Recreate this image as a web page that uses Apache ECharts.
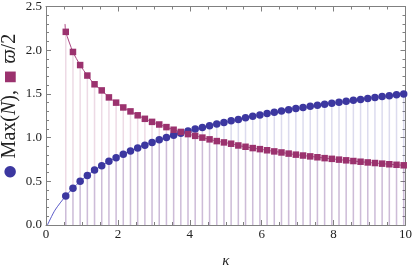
<!DOCTYPE html>
<html><head><meta charset="utf-8">
<script src="https://cdn.jsdelivr.net/npm/echarts@6/dist/echarts.min.js"></script>
<style>html,body{margin:0;padding:0;background:#fff}#c{width:415px;height:274px}</style>
</head><body><div id="c"></div>
<script>
const kappa = [0.55,0.75,0.95,1.15,1.35,1.55,1.75,1.95,2.15,2.35,2.55,2.75,2.95,3.15,3.35,3.55,3.75,3.95,4.15,4.35,4.55,4.75,4.95,5.15,5.35,5.55,5.75,5.95,6.15,6.35,6.55,6.75,6.95,7.15,7.35,7.55,7.75,7.95,8.15,8.35,8.55,8.75,8.95,9.15,9.35,9.55,9.75,9.95];
const maxN = [0.333,0.42,0.50,0.567,0.628,0.678,0.73,0.77,0.81,0.848,0.88,0.913,0.945,0.974,1.0,1.026,1.05,1.075,1.097,1.116,1.137,1.155,1.174,1.192,1.208,1.226,1.243,1.259,1.275,1.29,1.305,1.319,1.333,1.345,1.358,1.37,1.381,1.393,1.404,1.415,1.426,1.437,1.448,1.459,1.47,1.48,1.49,1.50];
const varpiHalf = [2.21,1.98,1.83,1.71,1.61,1.54,1.46,1.40,1.345,1.30,1.255,1.215,1.18,1.15,1.12,1.09,1.065,1.04,1.02,1.0,0.98,0.96,0.945,0.93,0.91,0.895,0.88,0.868,0.855,0.842,0.83,0.817,0.805,0.795,0.785,0.775,0.765,0.757,0.748,0.74,0.732,0.724,0.716,0.709,0.702,0.695,0.689,0.683];
const maxNCurveHeadX = [0.04, 0.25];
const maxNCurveHeadY = [0, 0.17];
const varpiCurveHeadX = [0.53];
const varpiCurveHeadY = [2.30];
const xTickValues = [0, 2, 4, 6, 8, 10];
const yTickValues = [0, 0.5, 1.0, 1.5, 2.0, 2.5];

const circleColor = '#3c37a0';
const squareColor = '#9b326e';
const serif = '"Liberation Serif", "DejaVu Serif", serif';

const circlePts = kappa.map((k, i) => [k, maxN[i]]);
const squarePts = kappa.map((k, i) => [k, varpiHalf[i]]);
const circleCurve = maxNCurveHeadX.map((k, i) => [k, maxNCurveHeadY[i]]).concat(circlePts);
const squareCurve = varpiCurveHeadX.map((k, i) => [k, varpiCurveHeadY[i]]).concat(squarePts);

function dropLines(color) {
  return function (params, api) {
    const x = api.value(0), y = api.value(1);
    const p0 = api.coord([x, 0]), p1 = api.coord([x, y]);
    return {type: 'line', shape: {x1: p0[0], y1: p0[1], x2: p1[0], y2: p1[1]},
      style: {stroke: color, lineWidth: 1.5}};
  };
}

const axisLineStyle = {color: '#808080', width: 1};
const baseX = {
  type: 'value', min: xTickValues[0], max: xTickValues[xTickValues.length - 1], interval: 2,
  axisLine: {show: true, onZero: false, lineStyle: axisLineStyle},
  axisTick: {show: true, inside: true, length: 5, lineStyle: axisLineStyle},
  minorTick: {show: true, splitNumber: 4, length: 3, lineStyle: axisLineStyle},
  splitLine: {show: false}, minorSplitLine: {show: false}
};
const baseY = {
  type: 'value', min: yTickValues[0], max: yTickValues[yTickValues.length - 1], interval: 0.5,
  axisLine: {show: true, onZero: false, lineStyle: axisLineStyle},
  axisTick: {show: true, inside: true, length: 5, lineStyle: axisLineStyle},
  minorTick: {show: true, splitNumber: 5, length: 3, lineStyle: axisLineStyle},
  splitLine: {show: false}, minorSplitLine: {show: false}
};

const chart = echarts.init(document.getElementById('c'), null, {renderer: 'canvas'});
chart.setOption({
  animation: false,
  backgroundColor: '#fff',
  grid: {left: 46, right: 9, top: 6, bottom: 43, containLabel: false},
  xAxis: [
    Object.assign({}, baseX, {position: 'bottom',
      axisLabel: {show: true, fontFamily: serif, fontSize: 13, color: '#222', margin: 3},
      name: 'κ', nameLocation: 'middle', nameGap: 29,
      nameTextStyle: {fontFamily: serif, fontStyle: 'italic', fontSize: 15, color: '#222'}}),
    Object.assign({}, baseX, {position: 'top', axisLabel: {show: false}})
  ],
  yAxis: [
    Object.assign({}, baseY, {position: 'left',
      axisLabel: {show: true, fontFamily: serif, fontSize: 13, color: '#222', margin: 4,
        formatter: v => v.toFixed(1)}}),
    Object.assign({}, baseY, {position: 'right', axisLabel: {show: false}})
  ],
  graphic: [{
    type: 'text', x: 10, y: 106, rotation: Math.PI / 2,
    style: {
      text: '{c|●}  {t|Max(}{i|N}{t|),}  {s|■}  {i|ϖ}{t|/2}',
      align: 'center', verticalAlign: 'middle',
      rich: {
        c: {fill: circleColor, fontSize: 15, fontFamily: 'DejaVu Sans'},
        s: {fill: squareColor, fontSize: 14, fontFamily: 'DejaVu Sans'},
        t: {fill: '#222', fontSize: 20, fontFamily: serif},
        i: {fill: '#222', fontSize: 20, fontFamily: serif, fontStyle: 'italic'}
      }
    }
  }],
  series: [
    {type: 'custom', name: 'dropSquare', renderItem: dropLines('rgba(155,50,110,0.18)'),
      data: squarePts, z: 1, silent: true},
    {type: 'custom', name: 'dropCircle', renderItem: dropLines('rgba(60,55,160,0.18)'),
      data: circlePts, z: 1, silent: true},
    {type: 'line', name: 'maxNCurve', data: circleCurve, showSymbol: false, smooth: 0.25,
      lineStyle: {color: '#5a5ac8', width: 1}, z: 2, silent: true},
    {type: 'line', name: 'varpiCurve', data: squareCurve, showSymbol: false, smooth: 0.25,
      lineStyle: {color: '#aa4682', width: 1}, z: 2, silent: true},
    {type: 'scatter', name: 'Max(N)', data: circlePts, symbol: 'circle', symbolSize: 7.5,
      itemStyle: {color: circleColor, opacity: 1}, z: 3},
    {type: 'scatter', name: 'varpi/2', data: squarePts, symbol: 'rect', symbolSize: 6.5,
      itemStyle: {color: squareColor, opacity: 1}, z: 3}
  ]
});
</script>
</body></html>
